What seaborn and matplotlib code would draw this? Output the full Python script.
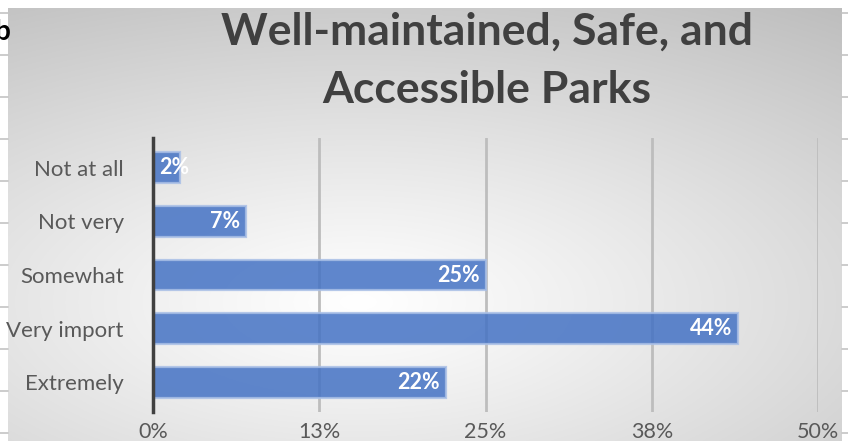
import numpy as np
import matplotlib.pyplot as plt
import seaborn as sns
from matplotlib.lines import Line2D

# Survey answers, importance of well-kept parks
categories = ['Not at all', 'Not very', 'Somewhat', 'Very import', 'Extremely']
shares = [2, 7, 25, 44, 22]
tick_values = [0, 12.5, 25, 37.5, 50]
tick_labels = ['0%', '13%', '25%', '38%', '50%']
title = 'Well-maintained, Safe, and\nAccessible Parks'

sns.set_style('white')
plt.rcParams['font.family'] = ['Lato', 'DejaVu Sans']

W, H = 848, 441
fig = plt.figure(figsize=(W / 100, H / 100), dpi=100)
fig.patch.set_facecolor('white')

# spreadsheet cells peeking out around the chart
for y in range(13, H, 42):
    fig.add_artist(Line2D([0, 8 / W], [1 - y / H] * 2, color='#c4c4c4', lw=1.2))
    fig.add_artist(Line2D([842 / W, 1], [1 - y / H] * 2, color='#c4c4c4', lw=1.2))
fig.text(-6 / W, 1 - 32 / H, 'b', fontsize=20, fontweight='bold', color='black',
         ha='left', va='center')

# chart area with a soft radial gradient
bg = fig.add_axes([8 / W, 0, (842 - 8) / W, (H - 8) / H])
yy, xx = np.mgrid[0:1:300j, 0:1:600j]
r = np.sqrt(((xx - 0.42) / 1.0) ** 2 + ((yy - 0.68) / 0.85) ** 2)
shade = np.clip(1 - 0.26 * r ** 1.1, 0, 1)
bg.imshow(np.dstack([shade] * 3), aspect='auto', extent=[0, 1, 1, 0])
bg.set_axis_off()

# plot area
ax = fig.add_axes([153 / W, 1 - 412 / H, 665 / W, 274 / H])
ax.patch.set_alpha(0)
sns.barplot(x=shares, y=categories, orient='h', color='#4472C4', saturation=1,
            width=0.57, alpha=0.85, edgecolor='#A9BFE6', linewidth=1.6, ax=ax, zorder=3)

for i, v in enumerate(shares):
    if v < 5:
        ax.annotate(f'{v}%', (0, i), xytext=(6, 0), textcoords='offset pixels',
                    ha='left', va='center', color='white', fontsize=15.5,
                    fontweight='bold', zorder=5)
    else:
        ax.annotate(f'{v}%', (v, i), xytext=(-6, 0), textcoords='offset pixels',
                    ha='right', va='center', color='white', fontsize=15.5,
                    fontweight='bold', zorder=5)

ax.set_xlim(0, 50)
ax.set_ylim(4.55, -0.55)
ax.set_xticks(tick_values)
ax.set_xticklabels(tick_labels)
ax.grid(axis='x', color='#bdbdbd', lw=2, zorder=0)
ax.set_axisbelow(True)
for side in ['top', 'right', 'bottom']:
    ax.spines[side].set_visible(False)
ax.spines['left'].set_color('#404040')
ax.spines['left'].set_linewidth(2.5)
ax.spines['left'].set_zorder(4)
ax.tick_params(axis='y', length=0, pad=21, labelsize=16, labelcolor='#595959')
ax.tick_params(axis='x', length=0, pad=7, labelsize=15.5, labelcolor='#595959')
ax.set_xlabel('')
ax.set_ylabel('')

fig.text(487 / W, 1 - 61 / H, title, ha='center', va='center', fontsize=32,
         fontweight='bold', color='#404040', linespacing=1.55)

fig.savefig('out.png', dpi=100)
